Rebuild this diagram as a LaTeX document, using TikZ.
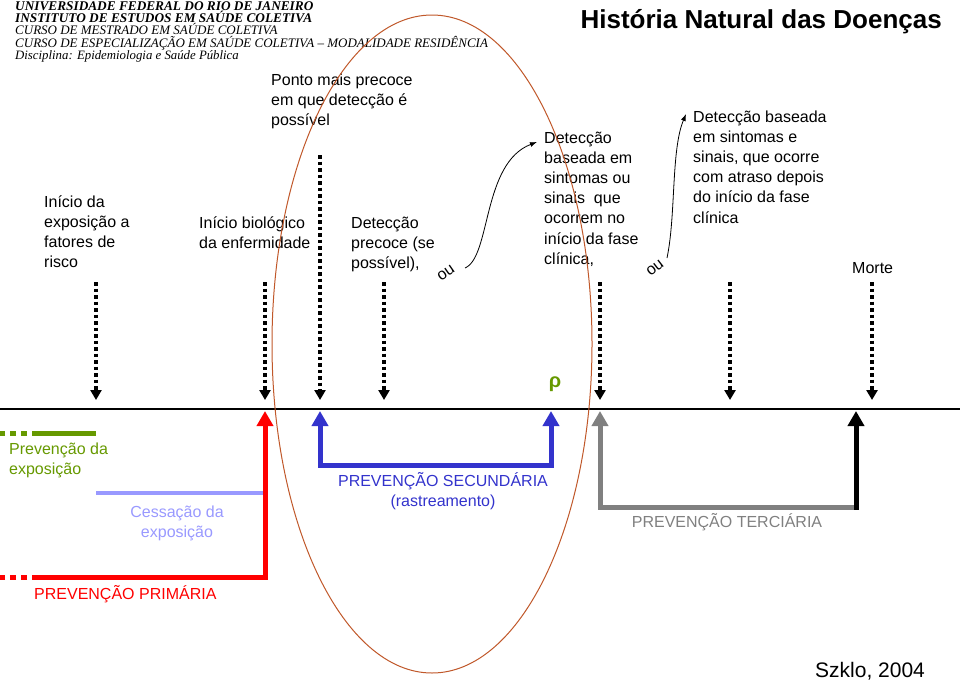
\documentclass[tikz,border=0pt]{standalone}
\usepackage{fontspec}
\setmainfont{Liberation Sans}
\newfontfamily\timesfont{Liberation Serif}
\usetikzlibrary{arrows.meta}
\definecolor{progreen}{HTML}{669900}
\definecolor{prolav}{HTML}{9999FF}
\definecolor{problue}{HTML}{3333CC}
\definecolor{progray}{HTML}{808080}
\definecolor{elcol}{HTML}{C0582A}
\tikzset{
  txt/.style={anchor=base west, inner sep=0pt, align=left,
    font=\fontsize{16}{20.2}\selectfont},
  ctxt/.style={txt, anchor=base, align=center},
  head/.style={anchor=base west, inner sep=0pt,
    font=\timesfont\itshape\fontsize{13}{13}\selectfont},
  headb/.style={head, font=\timesfont\bfseries\itshape\fontsize{13.3}{13}\selectfont},
  dotarrow/.style={line width=4pt, dash pattern=on 3.5pt off 3pt,
    -{Triangle[width=11pt,length=10pt]}},
  uparrow/.style={line width=5pt, line join=miter,
    {Triangle[width=16pt,length=15pt]}-},
  bar/.style={line width=5pt},
  curvearrow/.style={line width=0.8pt, -{Latex[length=7pt,width=5pt]}},
}

\begin{document}
\begin{tikzpicture}[x=1pt,y=-1pt]
\useasboundingbox (0,0) rectangle (960,680);

\node[headb] (uni) at (15,10) {UNIVERSIDADE FEDERAL DO RIO DE JANEIRO};
\node[headb] (inst) at (15,22.5) {INSTITUTO DE ESTUDOS EM SAÚDE COLETIVA};
\node[head] (mest) at (15,34.8) {CURSO DE MESTRADO EM SAÚDE COLETIVA};
\node[head] (espec) at (15,47.1) {CURSO DE ESPECIALIZAÇÃO EM SAÚDE COLETIVA – MODALIDADE RESIDÊNCIA};
\node[head, font=\timesfont\itshape\fontsize{12.8}{13}\selectfont] (disc) at (15,59.4)
  {Disciplina: Epidemiologia e Saúde Pública};

\node[anchor=base east, inner sep=0pt, font=\bfseries\fontsize{26}{26}\selectfont]
  (title) at (942,28) {História Natural das Doenças};

% linha do tempo
\coordinate (tl-a) at (0,409);
\coordinate (tl-b) at (960,409);
\draw[line width=1.2pt] (tl-a) -- (tl-b);

% base = ultima linha
\node[txt] (ponto) at (271,125.4) {Ponto mais precoce\\em que detecção é\\possível};
\node[txt] (expo) at (44,267.6) {Início da\\exposição a\\fatores de\\risco};
\node[txt] (bio) at (199,248.2) {Início biológico\\da enfermidade};
\node[txt] (prec) at (351,268.4) {Detecção\\precoce (se\\possível),};
\node[txt] (clin) at (544,264.2) {Detecção\\baseada em\\sintomas ou\\sinais\ \ que\\ocorrem no\\início da fase\\clínica,};
\node[txt] (atr) at (693,223) {Detecção baseada\\em sintomas e\\sinais, que ocorre\\com atraso depois\\do início da fase\\clínica};
\node[txt] (morte) at (852,273) {Morte};

\node[font=\fontsize{16}{16}\selectfont, rotate=35, inner sep=0pt] (ou1) at (446,273) {ou};
\node[font=\fontsize{16}{16}\selectfont, rotate=38, inner sep=0pt] (ou2) at (655,268) {ou};

\coordinate (ou1-s) at (465,268);
\coordinate (ou1-e) at (537,142);
\draw[curvearrow] (ou1-s) .. controls (491,257) and (482,163) .. (ou1-e);
\coordinate (ou2-s) at (667,258);
\coordinate (ou2-e) at (686,114);
\draw[curvearrow] (ou2-s) .. controls (676,215) and (671,150) .. (ou2-e);

% setas pontilhadas
\coordinate (expo-t) at (96,282);  \coordinate (expo-b) at (96,400);
\coordinate (bio-t) at (265,282);  \coordinate (bio-b) at (265,400);
\coordinate (ponto-t) at (320,155); \coordinate (ponto-b) at (320,400);
\coordinate (prec-t) at (384,282); \coordinate (prec-b) at (384,400);
\coordinate (clin-t) at (600,282); \coordinate (clin-b) at (600,400);
\coordinate (atr-t) at (730,282);  \coordinate (atr-b) at (730,400);
\coordinate (morte-t) at (872,282); \coordinate (morte-b) at (872,400);
\draw[dotarrow] (expo-t) -- (expo-b);
\draw[dotarrow] (bio-t) -- (bio-b);
\draw[dotarrow] (ponto-t) -- (ponto-b);
\draw[dotarrow] (prec-t) -- (prec-b);
\draw[dotarrow] (clin-t) -- (clin-b);
\draw[dotarrow] (atr-t) -- (atr-b);
\draw[dotarrow] (morte-t) -- (morte-b);

\node[font=\bfseries\fontsize{20}{20}\selectfont, text=progreen, inner sep=0pt] (rho) at (555,384) {ρ};

% prevencao primaria
\coordinate (pri-a) at (265,411);
\coordinate (pri-c) at (265,577);
\coordinate (pri-d) at (32,577);
\coordinate (pri-e) at (27,577);
\coordinate (pri-f) at (0,577);
\draw[uparrow, red] (pri-a) -- (pri-c) -- (pri-d);
\draw[bar, red, dash pattern=on 6pt off 5pt] (pri-e) -- (pri-f);

\coordinate (gre-a) at (96,433);
\coordinate (gre-d) at (32,433);
\coordinate (gre-e) at (27,433);
\coordinate (gre-f) at (0,433);
\draw[bar, progreen] (gre-a) -- (gre-d);
\draw[bar, progreen, dash pattern=on 6pt off 5pt] (gre-e) -- (gre-f);

\coordinate (ces-a) at (96,493);
\coordinate (ces-b) at (262.5,493);
\draw[line width=4pt, prolav] (ces-a) -- (ces-b);

% secundaria
\coordinate (sec-a) at (320,411);
\coordinate (sec-b) at (320,465);
\coordinate (sec-c) at (551,465);
\coordinate (sec-d) at (551,411);
\draw[uparrow, problue, {Triangle[width=16pt,length=15pt]}-{Triangle[width=16pt,length=15pt]}]
  (sec-a) -- (sec-b) -- (sec-c) -- (sec-d);

% terciaria
\coordinate (ter-a) at (600,411);
\coordinate (ter-b) at (600,507);
\coordinate (ter-c) at (856,507);
\coordinate (ter-d) at (856,509.5);
\coordinate (ter-e) at (856,411);
\draw[uparrow, progray] (ter-a) -- (ter-b) -- (ter-c);
\draw[uparrow, black] (ter-e) -- (ter-d);

\node[txt, text=progreen] (pexp) at (9,474.2) {Prevenção da\\exposição};
\node[ctxt, text=prolav] (cess) at (177,537.2) {Cessação da\\exposição};
\node[txt, text=red] (ppri) at (34,599) {PREVENÇÃO PRIMÁRIA};
\node[ctxt, text=problue] (psec) at (443,506.2) {PREVENÇÃO SECUNDÁRIA\\(rastreamento)};
\node[ctxt, text=progray] (pter) at (727,527) {PREVENÇÃO TERCIÁRIA};

\coordinate (elc) at (432,344);
\draw[elcol, line width=1pt] (elc) ellipse [x radius=160pt, y radius=329pt];

\node[anchor=base west, inner sep=0pt, font=\fontsize{21}{21}\selectfont] (szklo) at (815,677) {Szklo, 2004};
\end{tikzpicture}
\end{document}
